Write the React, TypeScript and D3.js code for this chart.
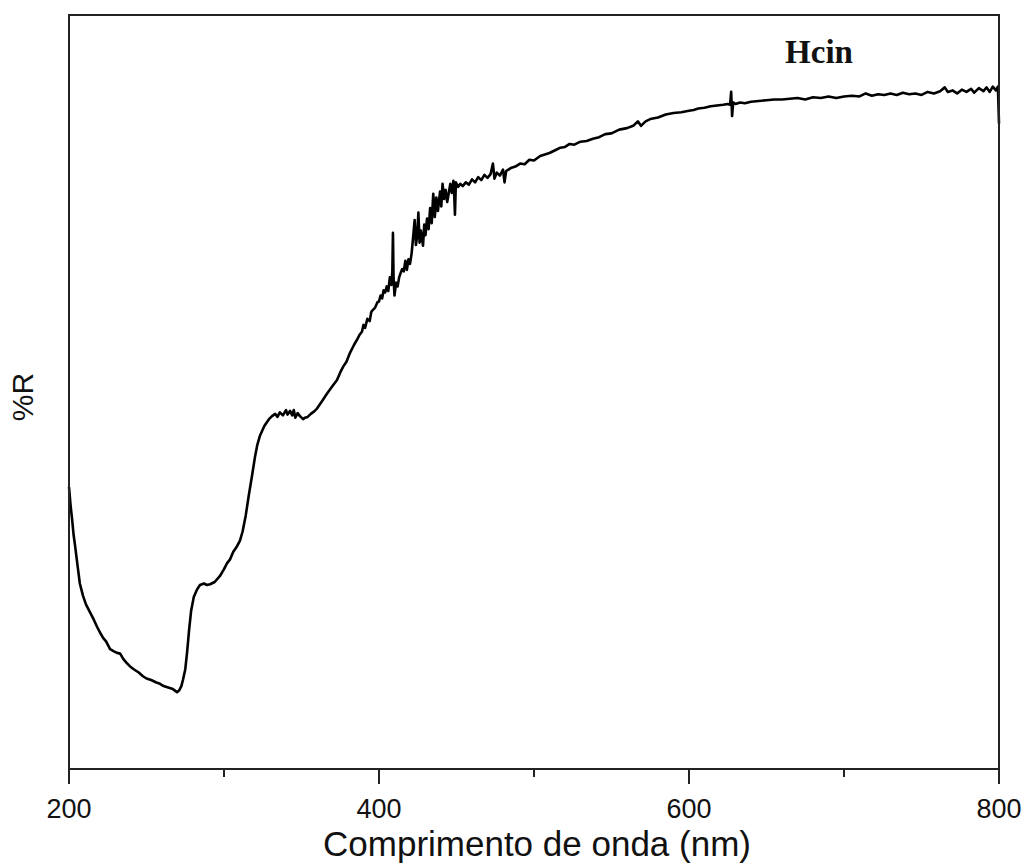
import React from "react";
import * as d3 from "d3";

// Reflectance spectrum of Hcin: [wavelength (nm), %R (arbitrary, 0-100 frame scale)]
const hcinSpectrum: [number, number][] = [
  [200, 37.4], [201, 35.0], [202, 33.1], [203, 31.0], [204, 29.5], [205.5, 27.0], [207, 24.6],
  [209, 23.0], [211, 21.8], [213.5, 20.8], [216, 19.8], [218, 18.9], [220, 18.1], [222, 17.4],
  [224, 16.9], [226.5, 15.9], [229, 15.6], [231, 15.4], [233, 15.3], [235, 14.6], [237, 14.1],
  [239.4, 13.6], [242, 13.2], [245, 12.8], [247.7, 12.3], [250, 12.0], [253, 11.8], [256, 11.5],
  [258.7, 11.3], [261, 11.0], [264, 10.8], [267, 10.6], [269.7, 10.2], [271, 10.4], [272.5, 11.0],
  [273.5, 11.8], [275, 13.2], [276.2, 15.5], [277.5, 18.5], [278.8, 21.0], [280.5, 22.8],
  [282.6, 23.8], [284.5, 24.4], [287, 24.6], [289, 24.4], [291, 24.5], [294, 24.8], [297.4, 25.6],
  [300, 26.5], [302, 27.3], [303.9, 27.8], [306, 28.8], [308, 29.4], [310.3, 30.3], [312, 31.5],
  [314, 33.6], [316, 36.3], [318, 38.8], [320, 41.4], [321.5, 43.0], [323.2, 44.2], [326, 45.5],
  [329, 46.4], [331, 46.8], [333, 47.1], [334.5, 46.7], [336, 47.3], [338, 46.9], [340, 47.6],
  [341, 47.0], [342.6, 47.5], [344, 46.9], [345, 47.6], [346, 46.6], [347.5, 47.2], [349, 46.8],
  [351, 46.4], [352.3, 46.6], [354, 46.7], [356, 47.1], [358, 47.4], [360, 47.8], [363, 48.7],
  [366.5, 49.8], [370, 50.8], [372.9, 51.6], [375, 52.6], [377, 53.4], [379, 54.0], [381.3, 55.2],
  [384, 56.3], [386, 57.0], [387.5, 57.6], [389, 58.0], [390, 58.9], [391, 58.5], [392.5, 59.7],
  [394, 59.4], [395, 60.6], [396.1, 60.9], [397.5, 61.2], [399, 61.9], [400, 62.0], [401, 62.8],
  [402, 62.4], [403, 63.5], [404, 63.2], [405, 64.0], [406, 63.4], [407, 65.2], [408, 64.2],
  [408.6, 66.0], [409, 71.1], [409.4, 65.0], [410, 62.8], [411, 64.5], [412, 64.0], [413, 65.2],
  [414, 65.8], [415, 66.3], [416, 66.0], [417, 67.4], [418, 66.2], [419, 67.6], [420, 67.0],
  [421, 68.3], [422, 70.5], [423, 72.8], [423.8, 69.5], [424.6, 70.6], [425.4, 73.8],
  [426.2, 69.8], [427, 71.4], [428.4, 69.4], [429.2, 72.2], [430, 70.8], [431, 73.0], [432, 71.6],
  [433, 74.4], [434, 72.4], [435, 76.3], [436, 73.2], [437, 75.8], [438, 74.0], [439.4, 76.6],
  [440.2, 74.6], [441, 77.6], [442, 75.6], [443, 76.8], [444, 75.2], [445, 76.4], [446, 77.6],
  [447, 76.4], [448, 78.0], [448.6, 75.8], [449, 73.5], [449.6, 77.8], [451, 77.2], [452.5, 77.6],
  [454, 77.3], [456, 77.8], [458, 77.5], [460, 78.2], [462, 77.8], [464, 78.5], [466, 78.1],
  [468, 78.8], [470, 78.4], [472, 78.9], [473.5, 80.3], [474.5, 78.3], [476, 79.1], [478, 78.7],
  [480, 79.5], [481, 77.8], [482, 79.3], [485, 79.7], [488, 79.9], [491, 80.3], [494, 80.2],
  [497, 80.8], [500, 80.7], [504, 81.3], [507, 81.5], [510, 81.7], [514, 82.1], [517, 82.4],
  [520, 82.5], [523, 82.9], [526, 82.8], [530, 83.2], [534, 83.3], [538, 83.6], [542, 83.8],
  [546, 84.2], [550, 84.3], [555, 84.8], [560, 85.0], [564, 85.3], [567, 85.9], [569, 85.3],
  [572, 85.9], [575, 86.2], [580, 86.4], [585, 86.8], [590, 87.0], [595, 87.1], [600, 87.3],
  [603, 87.4], [606, 87.6], [610, 87.7], [614, 87.9], [618, 88.0], [622, 88.1], [625, 88.2],
  [626.5, 88.1], [627.2, 89.8], [627.8, 86.6], [628.5, 88.4], [630, 88.2], [633, 88.4],
  [636, 88.3], [640, 88.5], [645, 88.6], [650, 88.7], [655, 88.8], [660, 88.8], [665, 88.9],
  [670, 89.0], [675, 88.8], [680, 89.1], [685, 89.0], [690, 89.2], [695, 89.0], [700, 89.2],
  [705, 89.3], [710, 89.2], [714, 89.6], [718, 89.3], [722, 89.5], [726, 89.4], [730, 89.6],
  [734, 89.4], [738, 89.7], [742, 89.5], [746, 89.6], [750, 89.4], [754, 89.8], [758, 89.6],
  [762, 89.9], [765, 90.4], [767, 89.8], [770, 90.0], [773, 89.6], [776, 90.1], [779, 89.8],
  [782, 90.2], [784, 89.7], [787, 90.3], [790, 89.9], [792, 90.4], [794, 89.8], [796, 90.5],
  [798, 90.0], [799.3, 90.5], [800, 85.6],
];

const majorTicks = [200, 400, 600, 800];
const minorTicks = [300, 500, 700];

const xLabel = "Comprimento de onda (nm)";
const yLabel = "%R";
const sampleName = "Hcin";

export default function App() {
  const W = 1025;
  const H = 864;
  const left = 69, right = 999, top = 15, bottom = 769;

  const x = d3.scaleLinear().domain([200, 800]).range([left, right]);
  const y = d3.scaleLinear().domain([0, 100]).range([bottom, top]);

  const line = d3
    .line<[number, number]>()
    .x((d) => x(d[0]))
    .y((d) => y(d[1]));

  const axisColor = "#222";

  return (
    <div>
      <style>{`body{margin:0;background:#fff}`}</style>
      <svg width={W} height={H} style={{ display: "block" }}>
        <rect x={0} y={0} width={W} height={H} fill="#fff" />
        <path
          d={line(hcinSpectrum) || ""}
          fill="none"
          stroke="#000"
          strokeWidth={2.6}
          strokeLinejoin="round"
        />
        <rect
          x={left}
          y={top}
          width={right - left}
          height={bottom - top}
          fill="none"
          stroke={axisColor}
          strokeWidth={2}
        />
        {majorTicks.map((t) => (
          <g key={`M${t}`}>
            <line x1={x(t)} x2={x(t)} y1={bottom} y2={bottom + 15} stroke={axisColor} strokeWidth={2} />
            <text
              x={x(t)}
              y={818}
              textAnchor="middle"
              fontFamily="Arial, 'Liberation Sans', sans-serif"
              fontSize={27}
              fill="#111"
            >
              {t}
            </text>
          </g>
        ))}
        {minorTicks.map((t) => (
          <line key={`m${t}`} x1={x(t)} x2={x(t)} y1={bottom} y2={bottom + 8} stroke={axisColor} strokeWidth={2} />
        ))}
        <text
          x={(left + right) / 2 + 3}
          y={856}
          textAnchor="middle"
          fontFamily="Arial, 'Liberation Sans', sans-serif"
          fontSize={35}
          fill="#111"
        >
          {xLabel}
        </text>
        <text
          transform={`translate(33, 397) rotate(-90)`}
          textAnchor="middle"
          fontFamily="Arial, 'Liberation Sans', sans-serif"
          fontSize={30}
          fill="#111"
        >
          {yLabel}
        </text>
        <text
          x={819}
          y={63}
          textAnchor="middle"
          fontFamily="'Liberation Serif', 'Times New Roman', serif"
          fontWeight="bold"
          fontSize={33}
          fill="#111"
        >
          {sampleName}
        </text>
      </svg>
    </div>
  );
}
